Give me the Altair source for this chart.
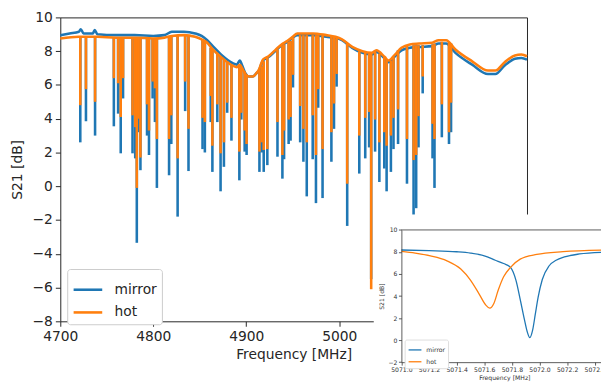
import altair as alt
import pandas as pd

SERIES = ["mirror", "hot"]
COLORS = ["#1f77b4", "#ff7f0e"]
FONT = "DejaVu Sans"
AX = "#262626"

# ---------------- main panel: smooth background level of each trace ----------------
mirror_freq = [4700, 4710, 4720, 4722, 4725, 4735, 4737, 4740, 4760, 4780, 4800, 4812, 4820, 4833,
               4845, 4852, 4858, 4864, 4874, 4885, 4890, 4893, 4896, 4899, 4903, 4907, 4911, 4914,
               4916, 4918, 4924, 4931, 4938, 4944, 4950, 4955, 4972, 4986, 4996, 5003, 5014, 5025,
               5035, 5040, 5049, 5053, 5060, 5067, 5076, 5086, 5100, 5107, 5115, 5125, 5143, 5160,
               5168, 5178, 5189, 5196, 5202]
mirror_s21 = [8.95, 9.05, 9.15, 9.3, 9.05, 9.05, 9.25, 9.0, 8.95, 8.95, 8.9, 8.95, 9.15, 9.15,
              9.05, 8.9, 8.65, 8.3, 7.75, 7.3, 7.2, 7.45, 7.1, 6.7, 6.5, 6.5, 6.7, 6.9,
              7.2, 7.45, 7.65, 8.0, 8.35, 8.55, 8.8, 8.95, 8.95, 8.85, 8.8, 8.65, 8.2, 7.9,
              7.8, 7.95, 7.55, 7.35, 7.7, 8.05, 8.2, 8.25, 8.3, 8.45, 8.45, 7.9, 7.2, 6.65,
              6.65, 7.15, 7.55, 7.6, 7.5]

hot_freq = [4700, 4720, 4740, 4760, 4780, 4800, 4812, 4820, 4833, 4845, 4852, 4858, 4864, 4874,
            4885, 4890, 4893, 4896, 4899, 4903, 4907, 4911, 4914, 4916, 4918, 4924, 4931, 4938,
            4944, 4950, 4955, 4972, 4986, 4996, 5003, 5014, 5025, 5035, 5040, 5049, 5053, 5060,
            5067, 5076, 5086, 5100, 5107, 5115, 5125, 5143, 5160, 5168, 5178, 5189, 5196, 5202]
hot_s21 = [8.75, 8.85, 8.85, 8.8, 8.8, 8.75, 8.8, 8.9, 8.95, 8.85, 8.7, 8.5, 8.1, 7.6,
           7.15, 7.05, 7.2, 6.95, 6.65, 6.5, 6.5, 6.7, 6.95, 7.25, 7.5, 7.7, 8.05, 8.4,
           8.6, 8.85, 9.05, 9.05, 8.95, 8.85, 8.7, 8.25, 8.0, 7.9, 8.05, 7.65, 7.45, 7.8,
           8.2, 8.4, 8.45, 8.5, 8.65, 8.65, 8.1, 7.4, 6.85, 6.85, 7.35, 7.75, 7.8, 7.7]

# ---------------- main panel: resonance dips ----------------
dip_freq = [4721.5, 4727.6, 4737.4, 4757.6, 4762.2, 4765.0, 4767.5, 4777.7, 4780.6, 4782.3,
            4784.1, 4786.2, 4793.3, 4795.4, 4799.3, 4801.8, 4803.9, 4817.0, 4819.4, 4826.2,
            4834.3, 4837.9, 4853.0, 4855.5, 4861.8, 4863.6, 4868.9, 4872.4, 4876.0, 4879.5,
            4884.1, 4892.6, 4894.7, 4898.3, 4900.4, 4914.2, 4916.6, 4918.8, 4922.7, 4933.6,
            4938.9, 4940.7, 4945.6, 4947.7, 4950.3, 4958.0, 4961.5, 4965.1, 4971.5, 4975.0,
            4977.4, 4982.1, 4991.6, 4994.4, 4997.2, 5008.6, 5021.6, 5028.0, 5032.2, 5034.4,
            5038.6, 5043.2, 5048.5, 5051.0, 5055.6, 5058.4, 5063.3, 5072.9, 5080.0, 5082.8,
            5085.3, 5089.8, 5100.4, 5102.5, 5110.4, 5118.1, 5120.3]
dip_top = [8.9, 8.85, 8.85, 8.8, 8.8, 8.8, 8.8, 8.8, 8.8, 8.8,
           8.8, 8.8, 8.75, 8.75, 8.75, 8.75, 8.75, 8.9, 8.9, 8.95,
           8.95, 8.9, 8.7, 8.65, 8.2, 8.1, 7.9, 7.7, 7.5, 7.4,
           7.15, 7.2, 7.0, 6.8, 6.6, 6.9, 7.1, 7.4, 7.6, 8.1,
           8.35, 8.4, 8.55, 8.6, 8.8, 8.95, 8.95, 8.95, 8.95, 8.95,
           8.95, 8.9, 8.85, 8.85, 8.8, 8.45, 8.0, 7.9, 7.85, 7.85,
           7.95, 7.85, 7.65, 7.5, 7.45, 7.65, 8.05, 8.3, 8.35, 8.35,
           8.35, 8.35, 8.4, 8.45, 8.55, 8.5, 8.45]
dip_mirror = [2.6, 3.85, 3.0, 3.55, 4.3, 1.95, 5.2, 1.95, 1.65, -3.35,
              3.2, 0.95, 3.0, 1.85, 5.2, 3.8, -0.1, 0.65, 2.5, -1.8,
              4.45, 0.9, 2.2, 2.0, 3.8, 0.85, 3.8, -0.3, 1.15, 4.35,
              2.7, 0.35, 3.95, 2.05, 1.85, 0.85, 2.0, 0.85, 1.25, 1.75,
              0.45, 1.6, 2.5, 2.7, 5.85, 2.6, 1.45, -0.6, 1.6, -1.0,
              4.65, -0.7, 1.45, 3.4, 5.9, -2.35, 0.75, 1.65, 2.3, -5.5,
              2.05, 0.25, 1.05, -0.3, 0.85, 2.2, 2.5, 0.15, -1.7, -1.3,
              2.3, 5.5, 1.65, -0.1, 2.9, 2.5, 3.2]
dip_hot = [4.8, 5.75, 5.0, 6.4, 6.1, 4.1, 6.4, 4.2, 3.5, -0.1,
           4.0, 1.7, 4.85, 3.3, 6.2, 5.8, 2.8, 2.8, 4.2, 1.65,
           6.2, 3.4, 4.05, 3.8, 5.35, 2.4, 4.85, 1.95, 2.6, 4.95,
           4.05, 2.05, 4.35, 3.3, 2.5, 2.05, 2.6, 2.15, 2.2, 3.8,
           1.85, 3.3, 3.95, 4.1, 6.6, 4.75, 3.4, 2.6, 4.2, 1.85,
           5.75, 2.2, 3.2, 4.9, 6.65, 0.15, 3.0, 4.05, 4.4, -6.1,
           3.95, 2.6, 3.2, 2.4, 3.0, 4.05, 4.55, 2.8, 1.55, 1.85,
           4.15, 6.5, 3.7, 2.8, 4.85, 3.2, 4.95]

# ---------------- inset: single resonance ----------------
inset_mirror_freq = [5071.0, 5071.2, 5071.4, 5071.5, 5071.6, 5071.68, 5071.74, 5071.79, 5071.83,
                     5071.86, 5071.89, 5071.91, 5071.93, 5071.95, 5071.97, 5071.99, 5072.02,
                     5072.07, 5072.12, 5072.18, 5072.29, 5072.45]
inset_mirror_s21 = [8.18, 8.12, 8.02, 7.9, 7.65, 7.25, 6.95, 6.6, 5.4,
                    3.7, 1.9, 0.8, 0.22, 0.9, 2.4, 3.9, 5.5,
                    6.75, 7.25, 7.55, 7.82, 7.97]
inset_hot_freq = [5071.0, 5071.1, 5071.21, 5071.33, 5071.43, 5071.5, 5071.56, 5071.61, 5071.64,
                  5071.67, 5071.7, 5071.74, 5071.79, 5071.86, 5071.98, 5072.17, 5072.45]
inset_hot_s21 = [8.05, 7.9, 7.65, 7.2, 6.45, 5.45, 4.25, 3.2, 2.9,
                 3.35, 4.5, 5.75, 6.6, 7.35, 7.78, 8.03, 8.17]

main_x_ticks = [4700, 4800, 4900, 5000]
main_y_ticks = [-8, -6, -4, -2, 0, 2, 4, 6, 8, 10]
inset_x_ticks = [5071.0, 5071.2, 5071.4, 5071.6, 5071.8, 5072.0, 5072.2, 5072.4]
inset_y_ticks = [-2, 0, 2, 4, 6, 8, 10]

# ---------------- tables ----------------
mirror_df = pd.DataFrame({"freq": mirror_freq, "s21": mirror_s21, "series": "mirror"})
hot_df = pd.DataFrame({"freq": hot_freq, "s21": hot_s21, "series": "hot"})
dips_mirror_df = pd.DataFrame({"freq": dip_freq, "top": dip_top, "bottom": dip_mirror, "series": "mirror"})
dips_hot_df = pd.DataFrame({"freq": dip_freq, "top": dip_top, "bottom": dip_hot, "series": "hot"})
inset_df = pd.concat([
    pd.DataFrame({"freq": inset_mirror_freq, "s21": inset_mirror_s21, "series": "mirror", "o": 0}),
    pd.DataFrame({"freq": inset_hot_freq, "s21": inset_hot_s21, "series": "hot", "o": 1}),
])
one = pd.DataFrame({"a": [0]})

# ---------------- scales (each layer has its own, all main ones identical) ----------------
W, H = 473, 308


def xs_main():
    return alt.Scale(domain=[4700, 5202], range=[0, W], nice=False, zero=False)


def ys_main():
    return alt.Scale(domain=[-8, 10], range=[H, 0], nice=False, zero=False)


def col():
    return alt.Scale(domain=SERIES, range=COLORS)


def xs_in():
    return alt.Scale(domain=[5071.0, 5072.445], range=[345.7, 548], nice=False, zero=False)


def ys_in():
    return alt.Scale(domain=[-2, 10], range=[349.4, 215.4], nice=False, zero=False)


main_xaxis = alt.Axis(values=main_x_ticks, format="d", title="Frequency [MHz]", orient="bottom",
                      labelFontSize=14, titleFontSize=14, titleFontWeight="normal",
                      tickSize=5, labelPadding=3, titlePadding=5, domain=False,
                      labelFlush=False, labelOverlap=False,
                      tickColor=AX, labelColor=AX, titleColor=AX)
main_yaxis = alt.Axis(values=main_y_ticks, format="d", title="S21 [dB]", orient="left",
                      labelFontSize=14, titleFontSize=14, titleFontWeight="normal",
                      tickSize=5, labelPadding=3, titlePadding=8, domain=False,
                      labelFlush=False, labelOverlap=False,
                      tickColor=AX, labelColor=AX, titleColor=AX)

main_legend = alt.Legend(title=None, orient="none", legendX=7, legendY=255,
                         symbolType="stroke", symbolSize=841, symbolStrokeWidth=2.6,
                         labelFontSize=14, labelColor=AX, padding=5, labelOffset=11,
                         strokeColor="#cccccc", cornerRadius=3, fillColor="white",
                         rowPadding=0)

LW = 2.6
blue_line = alt.Chart(mirror_df).mark_line(strokeWidth=LW, interpolate="monotone").encode(
    x=alt.X("freq:Q", scale=xs_main(), axis=main_xaxis),
    y=alt.Y("s21:Q", scale=ys_main(), axis=main_yaxis),
    color=alt.Color("series:N", scale=col(), legend=main_legend),
)
blue_rules = alt.Chart(dips_mirror_df).mark_rule(strokeWidth=LW).encode(
    x=alt.X("freq:Q", scale=xs_main(), axis=None),
    y=alt.Y("top:Q", scale=ys_main(), axis=None),
    y2="bottom:Q",
    color=alt.Color("series:N", scale=col(), legend=None),
)
orange_line = alt.Chart(hot_df).mark_line(strokeWidth=LW, interpolate="monotone").encode(
    x=alt.X("freq:Q", scale=xs_main(), axis=None),
    y=alt.Y("s21:Q", scale=ys_main(), axis=None),
    color=alt.Color("series:N", scale=col(), legend=None),
)
orange_rules = alt.Chart(dips_hot_df).mark_rule(strokeWidth=LW).encode(
    x=alt.X("freq:Q", scale=xs_main(), axis=None),
    y=alt.Y("top:Q", scale=ys_main(), axis=None),
    y2="bottom:Q",
    color=alt.Color("series:N", scale=col(), legend=None),
)

# ---------------- inset ----------------
IN_FS = 6.2
IAX = "#333333"
inset_xaxis = alt.Axis(values=inset_x_ticks, format=".1f", title="Frequency [MHz]", orient="bottom",
                       offset=41.4, labelFontSize=IN_FS, titleFontSize=IN_FS, titleFontWeight="normal",
                       tickSize=3, labelPadding=1.5, titlePadding=1.5, zindex=2, titleX=450,
                       labelFlush=False, labelOverlap=False,
                       domainColor=IAX, tickColor=IAX, labelColor=IAX, titleColor=IAX,
                       domainWidth=0.8, tickWidth=0.8)
inset_yaxis = alt.Axis(values=inset_y_ticks, format="d", title="S21 [dB]", orient="left",
                       offset=-345.7, labelFontSize=IN_FS, titleFontSize=IN_FS, titleFontWeight="normal",
                       tickSize=3, labelPadding=1.5, titlePadding=3, zindex=2,
                       labelFlush=False, labelOverlap=False,
                       domainColor=IAX, tickColor=IAX, labelColor=IAX, titleColor=IAX,
                       domainWidth=0.8, tickWidth=0.8)
inset_legend = alt.Legend(title=None, orient="none", legendX=349, legendY=326.5,
                          symbolType="stroke", symbolSize=169, symbolStrokeWidth=1.3,
                          labelFontSize=IN_FS, labelColor=IAX, padding=3, labelOffset=4,
                          strokeColor="#dddddd", cornerRadius=2, fillColor="white",
                          rowPadding=1, zindex=2)

inset_bg = alt.Chart(one).mark_rect(color="white").encode(
    x=alt.X(datum=5070.8, scale=xs_in(), axis=None),
    x2=alt.X2(datum=5073.0),
    y=alt.Y(datum=11.4, scale=ys_in(), axis=None),
    y2=alt.Y2(datum=-4.5),
)
inset_top = alt.Chart(one).mark_rule(color=IAX, strokeWidth=0.8).encode(
    x=alt.X(datum=5071.0, scale=xs_in(), axis=None),
    x2=alt.X2(datum=5073.0),
    y=alt.Y(datum=10, scale=ys_in(), axis=None),
)
inset_lines = alt.Chart(inset_df).mark_line(strokeWidth=1.3, interpolate="monotone").encode(
    x=alt.X("freq:Q", scale=xs_in(), axis=inset_xaxis),
    y=alt.Y("s21:Q", scale=ys_in(), axis=inset_yaxis),
    color=alt.Color("series:N", scale=col(), legend=inset_legend),
    order="o:Q",
)

chart = alt.layer(
    blue_line, blue_rules, orange_line, orange_rules, inset_bg, inset_top, inset_lines
).resolve_scale(
    x="independent", y="independent", color="independent"
).properties(
    width=W, height=H,
    autosize=alt.AutoSizeParams(type="none"),
    padding={"left": 53, "top": 7, "right": 75, "bottom": 61},
).configure(font=FONT).configure_view(stroke=AX, strokeWidth=1).configure_axis(grid=False)

chart.save("out.html", embed_options={"renderer": "svg", "actions": False})
